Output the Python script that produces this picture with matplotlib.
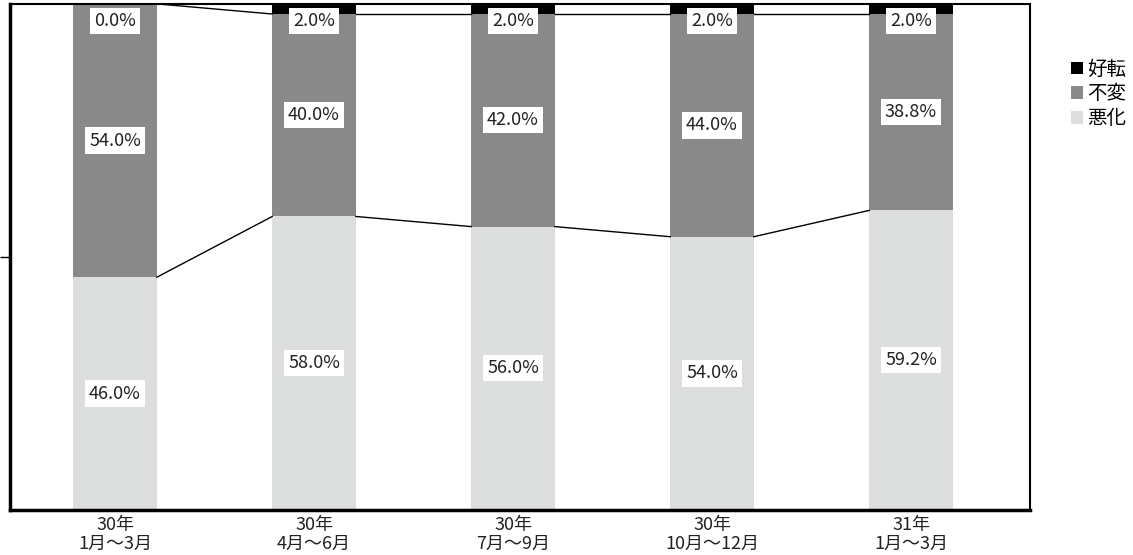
import matplotlib.pyplot as plt
import numpy as np

plt.rcParams['font.family'] = ['Noto Sans CJK JP', 'DejaVu Sans']

# データ
periods = ['30年\n1月～3月', '30年\n4月～6月', '30年\n7月～9月', '30年\n10月～12月', '31年\n1月～3月']
worse = [46.0, 58.0, 56.0, 54.0, 59.2]
same = [54.0, 40.0, 42.0, 44.0, 38.8]
better = [0.0, 2.0, 2.0, 2.0, 2.0]

c_worse = '#dcdddd'
c_same = '#898989'
c_better = '#000000'

x = np.arange(len(periods))
w = 0.42

fig = plt.figure(figsize=(11.33, 5.55), dpi=100)
ax = fig.add_axes([0.0088, 0.081, 0.9003, 0.912])

worse = np.array(worse)
same = np.array(same)
better = np.array(better)

ax.bar(x, worse, w, color=c_worse, label='悪化', zorder=2)
ax.bar(x, same, w, bottom=worse, color=c_same, label='不変', zorder=2)
ax.bar(x, better, w, bottom=worse + same, color=c_better, label='好転', zorder=2)

# 系列線
for tops in (worse, worse + same):
    for i in range(len(x) - 1):
        ax.plot([x[i] + w / 2, x[i + 1] - w / 2], [tops[i], tops[i + 1]],
                color='black', lw=1, zorder=3)

# データラベル
box = dict(facecolor='white', edgecolor='none', pad=3)
for i in range(len(x)):
    segs = [(worse[i], 0), (same[i], worse[i]), (better[i], worse[i] + same[i])]
    for val, base in segs:
        y = min(base + val / 2, 96.6)
        ax.text(x[i], y, f'{val:.1f}%', ha='center', va='center', fontsize=13,
                color='#222222', bbox=box, zorder=4)

ax.set_xlim(-0.528, 4.598)
ax.set_ylim(0, 100)
ax.set_xticks(x)
ax.set_xticklabels(periods, fontsize=13, linespacing=1.1, color='#222222')
ax.tick_params(axis='x', length=0, pad=4)
ax.set_yticks([50])
ax.set_yticklabels([])
ax.tick_params(axis='y', length=7, width=1)

for s in ('left', 'bottom'):
    ax.spines[s].set_linewidth(2.5)
for s in ('top', 'right'):
    ax.spines[s].set_linewidth(1.5)

handles, labels = ax.get_legend_handles_labels()
fig.legend(handles[::-1], labels[::-1], loc='upper left', bbox_to_anchor=(0.937, 0.912),
           frameon=False, fontsize=14, handlelength=0.6, handleheight=0.6,
           handletextpad=0.2, labelspacing=0.2, borderpad=0)

fig.savefig('out.png', dpi=100)
